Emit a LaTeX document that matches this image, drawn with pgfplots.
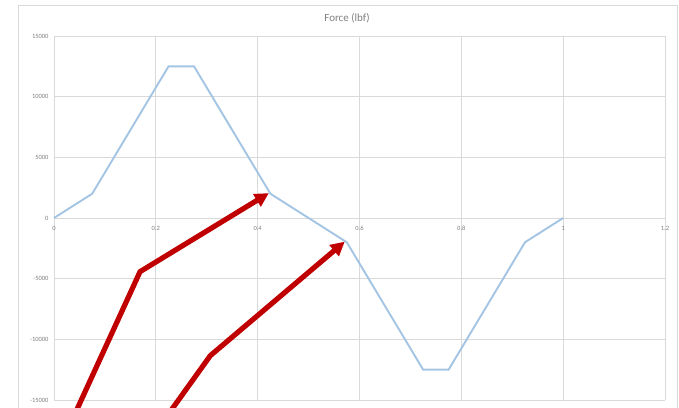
\documentclass[border=0pt]{standalone}
\usepackage{fontspec}
\setmainfont{Carlito}
\usepackage{pgfplots}
\pgfplotsset{compat=1.18}
\usetikzlibrary{arrows.meta}
\definecolor{gridc}{HTML}{D9D9D9}
\definecolor{linec}{HTML}{A3C4E3}
\definecolor{arrc}{HTML}{C00000}
\definecolor{txtc}{HTML}{7F7F7F}
\begin{document}
\begin{tikzpicture}
\draw[gridc, line width=0.8bp] (18bp,-5bp) rectangle (677bp,403bp);
\node[text=txtc, font=\fontsize{11}{13}\selectfont] at (347bp,390bp) {Force (lbf)};
\begin{axis}[
  at={(54bp,8bp)}, anchor=south west,
  scale only axis, width=611bp, height=364bp,
  xmin=0, xmax=1.2, ymin=-15000, ymax=15000,
  xtick={0,0.2,0.4,0.6,0.8,1,1.2},
  xticklabels={0,0.2,0.4,0.6,0.8,1,1.2},
  ytick={-15000,-10000,-5000,0,5000,10000,15000},
  yticklabels={-15000,-10000,-5000,0,5000,10000,15000},
  scaled y ticks=false, scaled x ticks=false,
  axis x line*=middle, axis y line*=left,
  hide obscured x ticks=false, hide obscured y ticks=false,
  axis line style={gridc, line width=0.8bp},
  grid=major, major grid style={gridc, line width=0.8bp},
  major tick length=0pt,
  tick label style={text=txtc, font=\fontsize{6.5}{7}\selectfont},
  xticklabel style={yshift=-5bp},
  yticklabel style={xshift=-2bp},
  clip=false,
]
\addplot[linec, line width=1.9bp, mark=none] coordinates {
 (0,0) (0.075,2000) (0.225,12500) (0.275,12500) (0.425,2000)
 (0.575,-2000) (0.725,-12500) (0.775,-12500) (0.925,-2000) (1.0,0)
};
\draw[arrc, line width=5.2bp, line join=miter, -{Triangle[length=14bp,width=14bp]}]
  (axis cs:0.036,-16614) -- (axis cs:0.169,-4423) -- (axis cs:0.422,2050);
\draw[arrc, line width=5.2bp, line join=miter, -{Triangle[length=14bp,width=14bp]}]
  (axis cs:0.217,-16614) -- (axis cs:0.307,-11343) -- (axis cs:0.571,-1950);
\end{axis}
\pgfresetboundingbox
\useasboundingbox (0,0) rectangle (679bp,408bp);
\end{tikzpicture}
\end{document}
